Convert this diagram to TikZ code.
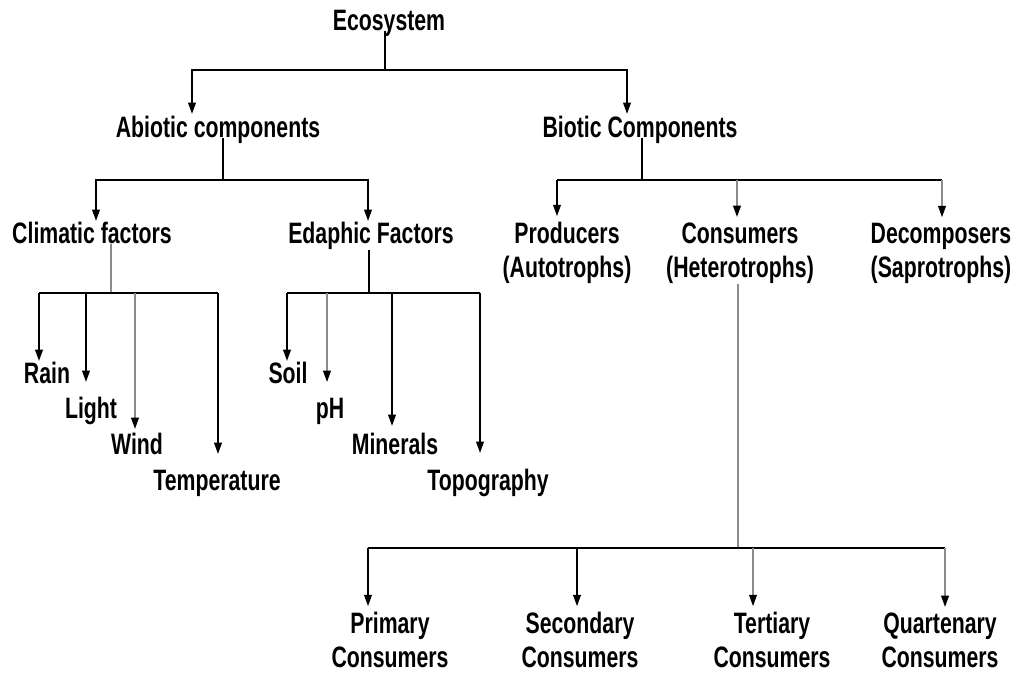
\documentclass[tikz,border=0pt]{standalone}
\usepackage{fontspec}
\setmainfont{Liberation Sans}[FakeStretch=0.72]
\usetikzlibrary{arrows.meta, calc, positioning}

\begin{document}
\begin{tikzpicture}[x=0.025cm, y=-0.025cm, line width=1pt,
    >={Triangle[length=8pt,width=5.5pt,color=black]},
    every node/.style={font=\bfseries\fontsize{21}{24}\selectfont, inner sep=0pt, anchor=base},
    twoline/.style={align=center},
    faint/.style={draw=black!45}]

    \useasboundingbox (0,0) rectangle (1016,675);

    % ecosystem and its two parts
    \node (eco)  at (389,31)  {Ecosystem};
    \node (abio) at (218,138) {Abiotic components};
    \node (bio)  at (640,138) {Biotic Components};

    % two-line nodes sit on the baseline of their last line
    \node (clim)   at (92,243)  {Climatic factors};
    \node (edaph)  at (371,243) {Edaphic Factors};
    \node[twoline] (prod)   at (567,277) {Producers\\(Autotrophs)};
    \node[twoline] (cons)   at (740,277) {Consumers\\(Heterotrophs)};
    \node[twoline] (decomp) at (941,277) {Decomposers\\(Saprotrophs)};

    \node (rain)  at (47,383)  {Rain};
    \node (light) at (91,418)  {Light};
    \node (wind)  at (137,454) {Wind};
    \node (temp)  at (217,490) {Temperature};

    \node (soil) at (288,383) {Soil};
    \node (ph)   at (330,418) {pH};
    \node (min)  at (395,454) {Minerals};
    \node (topo) at (488,490) {Topography};

    \node[twoline] (prim)  at (390,667) {Primary\\Consumers};
    \node[twoline] (sec)   at (580,667) {Secondary\\Consumers};
    \node[twoline] (tert)  at (772,667) {Tertiary\\Consumers};
    \node[twoline] (quart) at (940,667) {Quartenary\\Consumers};

    % junctions
    \coordinate (e1) at (385,70);
    \coordinate (a1) at (223,180);
    \coordinate (b1) at (642,180);
    \coordinate (c1) at (111,293);
    \coordinate (d1) at (369,293);
    \coordinate (k1) at (738,548);

    % arrow tips
    \coordinate (tAbio)   at ($(abio.north)+(-26,-2)$);
    \coordinate (tBio)    at ($(bio.north)+(-13,-2)$);
    \coordinate (tClim)   at ($(clim.north)+(4,0)$);
    \coordinate (tEdaph)  at ($(edaph.north)+(-3,0)$);
    \coordinate (tProd)   at ($(prod.north)+(-10,-5)$);
    \coordinate (tCons)   at ($(cons.north)+(-3,-5)$);
    \coordinate (tDecomp) at ($(decomp.north)+(1,-5)$);
    \coordinate (tRain)   at ($(rain.north)+(-8,0)$);
    \coordinate (tLight)  at ($(light.north)+(-5,-14)$);
    \coordinate (tWind)   at ($(wind.north)+(-2,-3)$);
    \coordinate (tTemp)   at ($(temp.north)+(1,-15)$);
    \coordinate (tSoil)   at ($(soil.north)+(-1,0)$);
    \coordinate (tPh)     at ($(ph.north)+(-3,-15)$);
    \coordinate (tMin)    at ($(min.north)+(-3,-6)$);
    \coordinate (tTopo)   at ($(topo.north)+(-8,-15)$);
    \coordinate (tPrim)   at ($(prim.north)+(-22,-5)$);
    \coordinate (tSec)    at ($(sec.north)+(-3,-5)$);
    \coordinate (tTert)   at ($(tert.north)+(-19,-5)$);
    \coordinate (tQuart)  at ($(quart.north)+(5,-5)$);

    % level one
    \draw (eco.base -| e1) -- (e1);
    \draw[->] (e1) -| (tAbio);
    \draw[->] (e1) -| (tBio);

    % abiotic
    \draw (abio.base -| a1) -- (a1);
    \draw[->] (a1) -| (tClim);
    \draw[->] (a1) -| (tEdaph);

    % biotic
    \draw (bio.base -| b1) -- (b1);
    \draw (tProd |- b1) -- (tDecomp |- b1);
    \draw[->] (tProd |- b1) -- (tProd);
    \draw[->, faint] (tCons |- b1) -- (tCons);
    \draw[->, faint] (tDecomp |- b1) -- (tDecomp);

    % climatic factors
    \draw[faint] (clim.south -| c1) -- (c1);
    \draw (tRain |- c1) -- (tTemp |- c1);
    \draw[->] (tRain |- c1) -- (tRain);
    \draw[->] (tLight |- c1) -- (tLight);
    \draw[->, faint] (tWind |- c1) -- (tWind);
    \draw[->] (tTemp |- c1) -- (tTemp);

    % edaphic factors
    \draw (edaph.south -| d1) -- (d1);
    \draw (tSoil |- d1) -- (tTopo |- d1);
    \draw[->] (tSoil |- d1) -- (tSoil);
    \draw[->, faint] (tPh |- d1) -- (tPh);
    \draw[->] (tMin |- d1) -- (tMin);
    \draw[->] (tTopo |- d1) -- (tTopo);

    % consumers
    \draw[faint] (cons.south -| k1) -- (k1);
    \draw (tPrim |- k1) -- (tQuart |- k1);
    \draw[->] (tPrim |- k1) -- (tPrim);
    \draw[->] (tSec |- k1) -- (tSec);
    \draw[->, faint] (tTert |- k1) -- (tTert);
    \draw[->, faint] (tQuart |- k1) -- (tQuart);
\end{tikzpicture}
\end{document}
